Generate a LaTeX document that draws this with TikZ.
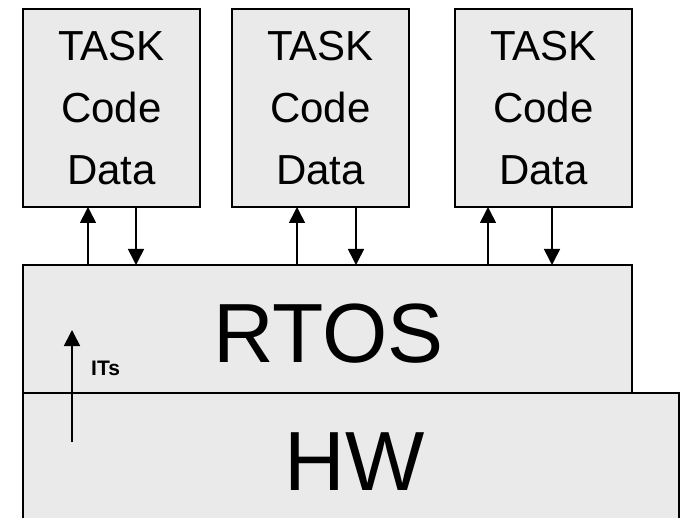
\documentclass[tikz,border=0pt]{standalone}
\usepackage{fontspec}
\setmainfont{Liberation Sans}
\usetikzlibrary{arrows.meta}
\definecolor{boxgray}{HTML}{EAEAEA}
\begin{document}
\begin{tikzpicture}[x=1pt,y=-1pt,
  box/.style={draw=black, line width=1.6pt, fill=boxgray, inner sep=0pt, anchor=north west, outer sep=0pt},
  taskbox/.style={box, minimum width=177pt, minimum height=198pt, align=center,
     font=\fontsize{42}{62}\selectfont},
  bigtext/.style={inner sep=0pt, font=\fontsize{84}{84}\selectfont},
  arr/.style={line width=1.6pt, -{Triangle[length=16pt,width=16pt]}}]
\useasboundingbox (0,0) rectangle (682,518);
\clip (0,0) rectangle (682,518);
% HW and RTOS layers
\node[box, minimum width=656pt, minimum height=150pt] (hw) at (23,393) {};
\node[box, minimum width=609pt, minimum height=128pt] (rtos) at (23,265) {};
\node[bigtext, anchor=base] (rtostext) at (328.5,362) {RTOS};
\node[bigtext, anchor=base] (hwtext) at (354.5,490) {HW};
% tasks
\node[taskbox] (task1) at (23,9) {TASK\\Code\\Data};
\node[taskbox] (task2) at (232,9) {TASK\\Code\\Data};
\node[taskbox] (task3) at (455,9) {TASK\\Code\\Data};
% arrow positions
\coordinate (u1) at (88,0);
\coordinate (d1) at (136,0);
\coordinate (u2) at (297,0);
\coordinate (d2) at (356,0);
\coordinate (u3) at (488,0);
\coordinate (d3) at (552,0);
\draw[arr] (u1 |- rtos.north) -- (u1 |- task1.south);
\draw[arr] (d1 |- task1.south) -- (d1 |- rtos.north);
\draw[arr] (u2 |- rtos.north) -- (u2 |- task2.south);
\draw[arr] (d2 |- task2.south) -- (d2 |- rtos.north);
\draw[arr] (u3 |- rtos.north) -- (u3 |- task3.south);
\draw[arr] (d3 |- task3.south) -- (d3 |- rtos.north);
% interrupts
\coordinate (itfrom) at (72,442);
\coordinate (itto) at (72,330);
\draw[arr] (itfrom) -- (itto);
\node[inner sep=0pt, anchor=base west, font=\fontsize{21}{22}\selectfont\bfseries] (its) at (91,375) {ITs};
\end{tikzpicture}
\end{document}
